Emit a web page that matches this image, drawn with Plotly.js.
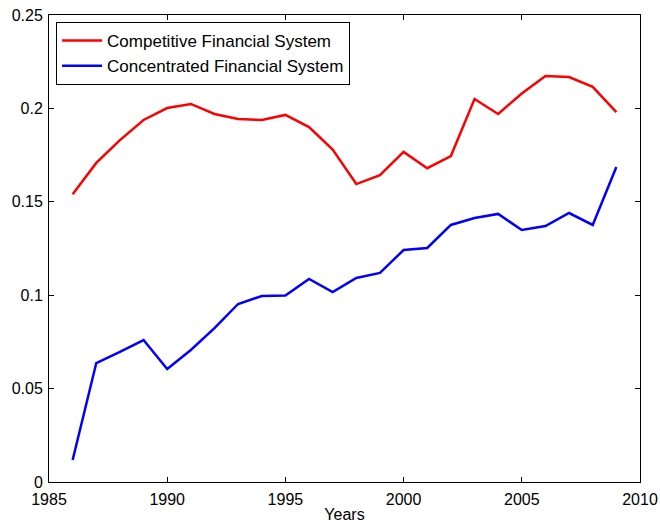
<!DOCTYPE html>
<html><head><meta charset="utf-8">
<script src="https://cdn.plot.ly/plotly-3.0.1.min.js"></script>
<style>html,body{margin:0;padding:0;background:#fff}</style>
</head><body>
<div id="chart" style="width:660px;height:525px"></div>
<script>
const years = [1986,1987,1988,1989,1990,1991,1992,1993,1994,1995,1996,1997,1998,1999,2000,2001,2002,2003,2004,2005,2006,2007,2008,2009];
const competitive = [0.154,0.1708,0.183,0.1938,0.2002,0.2024,0.197,0.1943,0.1938,0.1965,0.190,0.178,0.1595,0.1643,0.1767,0.168,0.1745,0.205,0.197,0.208,0.2173,0.2168,0.2115,0.198];
const concentrated = [0.0118,0.0637,0.0696,0.076,0.0605,0.0707,0.0824,0.0953,0.0996,0.0998,0.1087,0.1017,0.1092,0.1119,0.1242,0.1253,0.1376,0.1413,0.1435,0.1349,0.1370,0.144,0.1376,0.1686];
const xTicks = [1985,1990,1995,2000,2005,2010];
const yTicks = [0,0.05,0.1,0.15,0.2,0.25];
const yTickText = ['0','0.05','0.1','0.15','0.2','0.25'];

const FONT = 'Liberation Sans, Arial, Helvetica, sans-serif';
const traces = [
  {x: years, y: competitive, type:'scatter', mode:'lines', name:'Competitive Financial System', line:{color:'#ff0000', width:2.5}},
  {x: years, y: concentrated, type:'scatter', mode:'lines', name:'Concentrated Financial System', line:{color:'#0000ff', width:2.5}}
];
const axisCommon = {
  showgrid:false, zeroline:false, showline:true, linecolor:'#000', linewidth:1,
  mirror:'ticks', ticks:'inside', ticklen:5, tickcolor:'#000', tickwidth:1,
  tickfont:{family:FONT, size:16, color:'#000'}
};
const layout = {
  width:660, height:525,
  margin:{l:49, r:20, t:15, b:43},
  paper_bgcolor:'#fff', plot_bgcolor:'#fff',
  font:{family:FONT, size:16, color:'#000'},
  xaxis: Object.assign({}, axisCommon, {range:[1985,2010], tickvals:xTicks, ticktext:xTicks.map(String),
    ticklabelstandoff:3, title:{text:'Years', font:{size:16}, standoff:1}}),
  yaxis: Object.assign({}, axisCommon, {range:[0,0.25], tickvals:yTicks, ticktext:yTickText, ticklabelstandoff:2}),
  showlegend:true,
  legend:{x:0.012, y:0.985, xanchor:'left', yanchor:'top', bgcolor:'#fff', bordercolor:'#000', borderwidth:1,
    font:{size:17, family:FONT}, tracegroupgap:0, itemwidth:40}
};
Plotly.newPlot('chart', traces, layout, {staticPlot:true, displayModeBar:false});
</script>
</body></html>
